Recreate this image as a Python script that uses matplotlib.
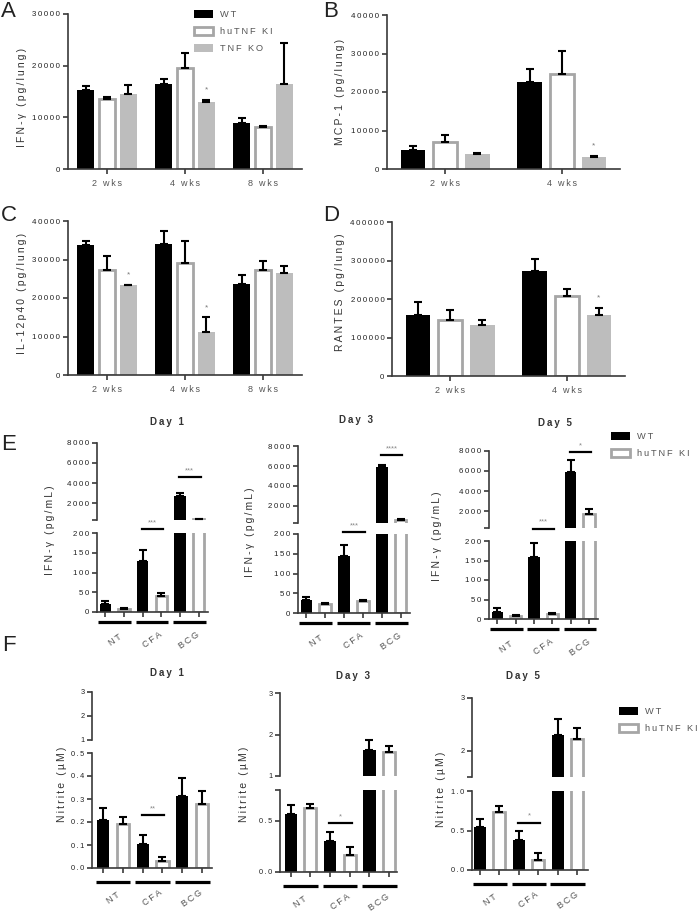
import numpy as np
import matplotlib
matplotlib.use('Agg')
import matplotlib.pyplot as plt
from matplotlib.transforms import offset_copy

plt.rcParams['font.family'] = ['Liberation Sans', 'DejaVu Sans']

# ---- data: lung cytokines (A-D) ----
weeks3 = ['2 wks', '4 wks', '8 wks']
weeks2 = ['2 wks', '4 wks']

A_wt = [15200, 16400, 9000];   A_wt_err = [900, 1000, 800]
A_ki = [13500, 19500, 8100];   A_ki_err = [500, 3000, 300]
A_ko = [14500, 12900, 16500];  A_ko_err = [1800, 500, 7800]
A_star = [(1, 15400)]

B_wt = [5000, 22500];  B_wt_err = [900, 3400]
B_ki = [7100, 24800];  B_ki_err = [1800, 5800]
B_ko = [3900, 3200];   B_ko_err = [200, 200]
B_star = [(1, 6100)]

C_wt = [33700, 34000, 23600];  C_wt_err = [1100, 3300, 2500]
C_ki = [27200, 29200, 27200];  C_ki_err = [3700, 5600, 2300]
C_ko = [23300, 11100, 26400];  C_ko_err = [200, 4000, 2000]
C_star = [(0, 25900), (1, 17500)]

D_wt = [158600, 271600];  D_wt_err = [32400, 32400]
D_ki = [144800, 206900];  D_ki_err = [25900, 19800]
D_ko = [131900, 157800];  D_ko_err = [12900, 19800]
D_star = [(1, 203000)]

# ---- data: in vitro (E, F) ----
conds = ['NT', 'CFA', 'BCG']
days = ['Day 1', 'Day 3', 'Day 5']

E_wt = [[20, 130, 2730], [32, 145, 5900], [18, 158, 5900]]
E_wt_err = [[9, 27, 270], [9, 26, 250], [10, 38, 1200]]
E_ki = [[7, 41, 400], [22, 30, 600], [8, 12, 1700]]
E_ki_err = [[2, 6, 50], [3, 4, 60], [2, 4, 550]]
E_sig = [[(1, 210, '***'), (2, 4600, '***')],
         [(1, 205, '***'), (2, 7100, '****')],
         [(1, 232, '***'), (2, 7900, '*')]]

F_wt = [[0.21, 0.105, 0.315], [0.57, 0.30, 1.63], [0.54, 0.38, 2.29]]
F_wt_err = [[0.05, 0.04, 0.075], [0.08, 0.09, 0.23], [0.10, 0.11, 0.32]]
F_ki = [[0.19, 0.03, 0.28], [0.62, 0.17, 1.57], [0.73, 0.13, 2.23]]
F_ki_err = [[0.03, 0.02, 0.055], [0.04, 0.07, 0.16], [0.08, 0.08, 0.20]]
F_sig = [[(1, 0.23, '**')], [(1, 0.48, '*')], [(1, 0.60, '*')]]

W, H = 700, 916
fig = plt.figure(figsize=(7, 9.16), dpi=100)

KI_EDGE = '#a6a6a6'
KO_C = '#bdbdbd'
AX_C = '#3a3a3a'
TXT = '#555555'


def sp(s):
    return '\u2009'.join(s)


def px_axes(x0, y0, x1, y1):
    return fig.add_axes([x0 / W, 1 - y1 / H, (x1 - x0) / W, (y1 - y0) / H])


def style(ax):
    ax.patch.set_visible(False)
    for s in ['top', 'right']:
        ax.spines[s].set_visible(False)
    for s in ['left', 'bottom']:
        ax.spines[s].set_color(AX_C)
        ax.spines[s].set_linewidth(1.2)
    ax.tick_params(direction='out', length=3.5, width=1.2, color=AX_C,
                   labelsize=5.7, labelcolor='#222222', pad=2)


def draw_bars(ax, x, vals, errs, kind, width, show_err=None):
    x = np.asarray(x, dtype=float)
    vals = np.asarray(vals, dtype=float)
    errs = np.asarray(errs, dtype=float)
    if kind == 'wt':
        kw = dict(color='black')
    elif kind == 'ki':
        kw = dict(facecolor='white', edgecolor=KI_EDGE, linewidth=2)
    else:
        kw = dict(color=KO_C)
    b = ax.bar(x, vals, width, zorder=2, **kw)
    m = np.ones(len(vals), bool) if show_err is None else show_err(vals, errs)
    if m.any():
        ax.errorbar(x[m], vals[m], yerr=[np.zeros(m.sum()), errs[m]], fmt='none',
                    ecolor='black', elinewidth=1.5, capsize=3, capthick=1.5, zorder=3)
    return b


def grouped(box, groups, series, ymax, step, stars):
    ax = px_axes(*box)
    style(ax)
    x = np.arange(len(groups))
    handles = []
    for off, (vals, errs, kind) in zip([-0.275, 0, 0.275], series):
        handles.append(draw_bars(ax, x + off, vals, errs, kind, 0.21))
    for g, y in stars:
        ax.text(g + 0.275, y, '*', ha='center', va='center', fontsize=6, color='#777777')
    ax.set_xlim(-0.5, len(groups) - 0.5)
    ax.set_ylim(0, ymax)
    ticks = np.arange(0, ymax + 1, step)
    ax.set_yticks(ticks, [sp(str(int(t))) for t in ticks])
    ax.set_xticks(x, [sp(g) for g in groups])
    ax.tick_params(axis='x', labelsize=6.5, labelcolor=TXT, pad=4)
    return ax, handles


axA, hA = grouped((68, 14, 302, 169), weeks3,
                  [(A_wt, A_wt_err, 'wt'), (A_ki, A_ki_err, 'ki'), (A_ko, A_ko_err, 'ko')],
                  30000, 10000, A_star)
grouped((387, 15, 620, 169), weeks2,
        [(B_wt, B_wt_err, 'wt'), (B_ki, B_ki_err, 'ki'), (B_ko, B_ko_err, 'ko')],
        40000, 10000, B_star)
grouped((68, 221, 302, 375), weeks3,
        [(C_wt, C_wt_err, 'wt'), (C_ki, C_ki_err, 'ki'), (C_ko, C_ko_err, 'ko')],
        40000, 10000, C_star)
grouped((392, 222, 625, 376), weeks2,
        [(D_wt, D_wt_err, 'wt'), (D_ki, D_ki_err, 'ki'), (D_ko, D_ko_err, 'ko')],
        400000, 100000, D_star)

fig.legend(hA, [sp('WT'), sp('huTNF KI'), sp('TNF KO')], loc='upper left',
           bbox_to_anchor=(186 / W, 1 - 2 / H), frameon=False, fontsize=6.7,
           labelcolor=TXT, handlelength=2.0, handleheight=0.9, labelspacing=0.85,
           handletextpad=0.8)


def broken(xpx, top_px, bot_px, top_lim, bot_lim, top_ticks, top_labels,
           bot_ticks, bot_labels, xlim, wt, wt_err, ki, ki_err, sigs,
           line_off, lab_off, tick_size):
    axt = px_axes(xpx[0], top_px[0], xpx[1], top_px[1])
    axb = px_axes(xpx[0], bot_px[0], xpx[1], bot_px[1])
    xw = np.arange(3) * 2
    in_top = lambda v, e: v > top_lim[0]
    in_bot = lambda v, e: v < bot_lim[1]
    hs = []
    for ax, filt in ((axt, in_top), (axb, in_bot)):
        style(ax)
        ax.tick_params(labelsize=tick_size)
        hs = [draw_bars(ax, xw, wt, wt_err, 'wt', 0.62, filt),
              draw_bars(ax, xw + 1, ki, ki_err, 'ki', 0.62, filt)]
        ax.set_xlim(xlim)
    axt.set_ylim(top_lim)
    axb.set_ylim(bot_lim)
    axt.spines['bottom'].set_visible(False)
    axt.set_xticks([])
    axt.set_yticks(top_ticks, [sp(l) for l in top_labels])
    axb.set_yticks(bot_ticks, [sp(l) for l in bot_labels])
    axb.set_xticks(np.arange(6), [])
    tr_line = offset_copy(axb.get_xaxis_transform(), fig=fig, y=-line_off, units='dots')
    tr_lab = offset_copy(axb.get_xaxis_transform(), fig=fig, y=-lab_off, units='dots')
    for g, name in enumerate(conds):
        axb.plot([2 * g - 0.38, 2 * g + 1.38], [0, 0], transform=tr_line,
                 clip_on=False, color='black', lw=2.3, solid_capstyle='butt')
        axb.text(2 * g + 0.5, 0, sp(name), transform=tr_lab, rotation=35,
                 ha='center', va='center', fontsize=6.5, color=TXT)
    for g, y, s in sigs:
        ax = axt if y > top_lim[0] else axb
        ax.plot([2 * g - 0.05, 2 * g + 1.1], [y, y], color='black', lw=1.6,
                clip_on=False, zorder=4)
        ax.annotate(s, (2 * g + 0.52, y), xytext=(0, 2), textcoords='offset points',
                    ha='center', va='bottom', fontsize=5.5, color='#888888',
                    annotation_clip=False)
    return axt, axb, hs


# ---- E ----
E_x = [(97, 208), (298, 410), (489, 598)]
E_top = [(443, 520), (446, 523), (451, 528)]
E_bot = [(533, 612), (534, 613), (541, 619)]
E_title = [(167, 422), (356, 420), (555, 423)]
E_ylab = [(50, 530), (250, 532), (437, 536)]
for i in range(3):
    _, _, hE = broken(E_x[i], E_top[i], E_bot[i], (300, 8000), (0, 200),
                      [300, 2000, 4000, 6000, 8000], ['', '2000', '4000', '6000', '8000'],
                      [0, 50, 100, 150, 200], ['0', '50', '100', '150', '200'],
                      (-0.45, 5.5), E_wt[i], E_wt_err[i], E_ki[i], E_ki_err[i],
                      E_sig[i], 10, 28, 5.7)
    fig.text(E_title[i][0] / W, 1 - E_title[i][1] / H, sp(days[i]), ha='center',
             va='center', fontsize=7, fontweight='bold', color='#333333')
    fig.text(E_ylab[i][0] / W, 1 - E_ylab[i][1] / H, sp('IFN-γ (pg/mL)'), rotation=90,
             ha='center', va='center', fontsize=7.5, color='#333333')
fig.legend(hE, [sp('WT'), sp('huTNF KI')], loc='upper left',
           bbox_to_anchor=(603 / W, 1 - 424 / H), frameon=False, fontsize=6.7,
           labelcolor=TXT, handlelength=2.0, handleheight=0.9, labelspacing=0.85,
           handletextpad=0.8)

# ---- F ----
F_x = [(92, 212), (280, 397), (472, 588)]
F_top = [(692, 740), (693, 776), (698, 777)]
F_bot = [(753, 868), (790, 872), (791, 870)]
F_toplim = [(1, 3), (1, 3), (1.5, 3)]
F_botlim = [(0, 0.5), (0, 0.8), (0, 1.0)]
F_tt = [([1, 2, 3], ['1', '2', '3']), ([1, 2, 3], ['1', '2', '3']), ([1.5, 2, 3], ['', '2', '3'])]
F_bt = [([0, 0.1, 0.2, 0.3, 0.4, 0.5], ['0.0', '0.1', '0.2', '0.3', '0.4', '0.5']),
        ([0, 0.5, 0.8], ['0.0', '0.5', '']),
        ([0, 0.5, 1.0], ['0.0', '0.5', '1.0'])]
F_xlim = [(-0.56, 5.5), (-0.54, 5.4), (-0.41, 5.55)]
F_title = [(167, 673), (353, 676), (523, 676)]
F_ylab = [(62, 784), (244, 784), (441, 789)]
for i in range(3):
    _, _, hF = broken(F_x[i], F_top[i], F_bot[i], F_toplim[i], F_botlim[i],
                      F_tt[i][0], F_tt[i][1], F_bt[i][0], F_bt[i][1], F_xlim[i],
                      F_wt[i], F_wt_err[i], F_ki[i], F_ki_err[i], F_sig[i], 14, 30, 5.3)
    fig.text(F_title[i][0] / W, 1 - F_title[i][1] / H, sp(days[i]), ha='center',
             va='center', fontsize=7, fontweight='bold', color='#333333')
    fig.text(F_ylab[i][0] / W, 1 - F_ylab[i][1] / H, sp('Nitrite (µM)'), rotation=90,
             ha='center', va='center', fontsize=7.5, color='#333333')
fig.legend(hF, [sp('WT'), sp('huTNF KI')], loc='upper left',
           bbox_to_anchor=(611 / W, 1 - 699 / H), frameon=False, fontsize=6.7,
           labelcolor=TXT, handlelength=2.0, handleheight=0.9, labelspacing=0.85,
           handletextpad=0.8)

# ---- y labels A-D and panel letters ----
for x, y, s in [(22, 97, 'IFN-γ (pg/lung)'), (340, 92, 'MCP-1 (pg/lung)'),
                (22, 293, 'IL-12p40 (pg/lung)'), (340, 292, 'RANTES (pg/lung)')]:
    fig.text(x / W, 1 - y / H, sp(s), rotation=90, ha='center', va='center',
             fontsize=7.5, color='#333333')

for x, y, s in [(1, 1, 'A'), (323, 1, 'B'), (1, 205, 'C'), (323, 205, 'D'),
                (1, 434, 'E'), (2, 635, 'F')]:
    fig.text(x / W, 1 - y / H, s, ha='left', va='top', fontsize=16, color='#222222')

fig.savefig('out.png', dpi=100)
